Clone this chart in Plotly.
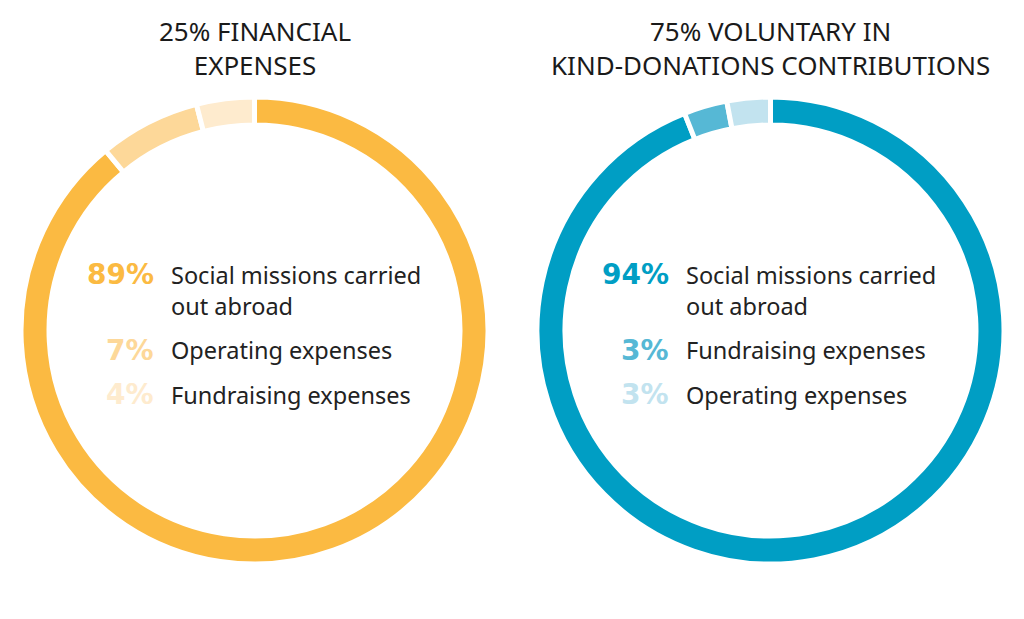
import plotly.graph_objects as go

W, H = 1024, 619
OFF = 8  # default page body margin

left_labels = ["Social missions carried out abroad", "Operating expenses", "Fundraising expenses"]
left_values = [89, 7, 4]
left_colors = ["#FBBA42", "#FDD899", "#FEEBCE"]
left_title = "25% FINANCIAL<br>EXPENSES"

right_labels = ["Social missions carried out abroad", "Fundraising expenses", "Operating expenses"]
right_values = [94, 3, 3]
right_colors = ["#009EC4", "#56B8D5", "#C2E3EF"]
right_title = "75% VOLUNTARY IN<br>KIND-DONATIONS CONTRIBUTIONS"

legend_lines_left = ["Social missions carried<br>out abroad", "Operating expenses", "Fundraising expenses"]
legend_lines_right = ["Social missions carried<br>out abroad", "Fundraising expenses", "Operating expenses"]

R = 233.5
left_c = (254.5, 330.5)
right_c = (770.5, 330.5)


def px(x, y):
    return (x - OFF) / W, 1 - (y - OFF) / H


def dom(c):
    x0, y0 = px(c[0] - R, c[1] + R)
    x1, y1 = px(c[0] + R, c[1] - R)
    return dict(x=[x0, x1], y=[y0, y1])


fig = go.Figure()
for vals, labs, cols, c in [(left_values, left_labels, left_colors, left_c),
                            (right_values, right_labels, right_colors, right_c)]:
    fig.add_trace(go.Pie(
        values=vals, labels=labs, hole=0.88, sort=False, direction="clockwise",
        rotation=0, marker=dict(colors=cols, line=dict(color="white", width=5)),
        textinfo="none", hoverinfo="label+percent", domain=dom(c), showlegend=False))

annotations = []
FONT = "Noto Sans"
for title, c in [(left_title, left_c), (right_title, right_c)]:
    x, y = px(c[0], 48)
    annotations.append(dict(x=x, y=y, xref="paper", yref="paper",
                            text=title, showarrow=False, xanchor="center", yanchor="middle",
                            font=dict(family=FONT, size=26, color="#1a1a1a")))

rows_y = [275, 350, 395]
for vals, lines, cols, xr in [(left_values, legend_lines_left, left_colors, 156),
                              (right_values, legend_lines_right, right_colors, 671)]:
    for v, txt, col, y in zip(vals, lines, cols, rows_y):
        x1, y1 = px(xr, y)
        annotations.append(dict(x=x1, y=y1, xref="paper", yref="paper",
                                text=f"<b>{v}%</b>", showarrow=False, xanchor="right",
                                yanchor="middle", font=dict(family="DejaVu Sans", size=28, color=col)))
        multi = "<br>" in txt
        x2, y2 = px(xr + 13, (y - 18) if multi else y)
        annotations.append(dict(x=x2, y=y2, xref="paper", yref="paper",
                                text=txt, showarrow=False, xanchor="left", align="left",
                                yanchor="top" if multi else "middle",
                                font=dict(family=FONT, size=23.5, color="#222222")))

fig.update_layout(width=W, height=H, margin=dict(l=0, r=0, t=0, b=0),
                  paper_bgcolor="white", plot_bgcolor="white", annotations=annotations)
fig.write_html("out.html")
